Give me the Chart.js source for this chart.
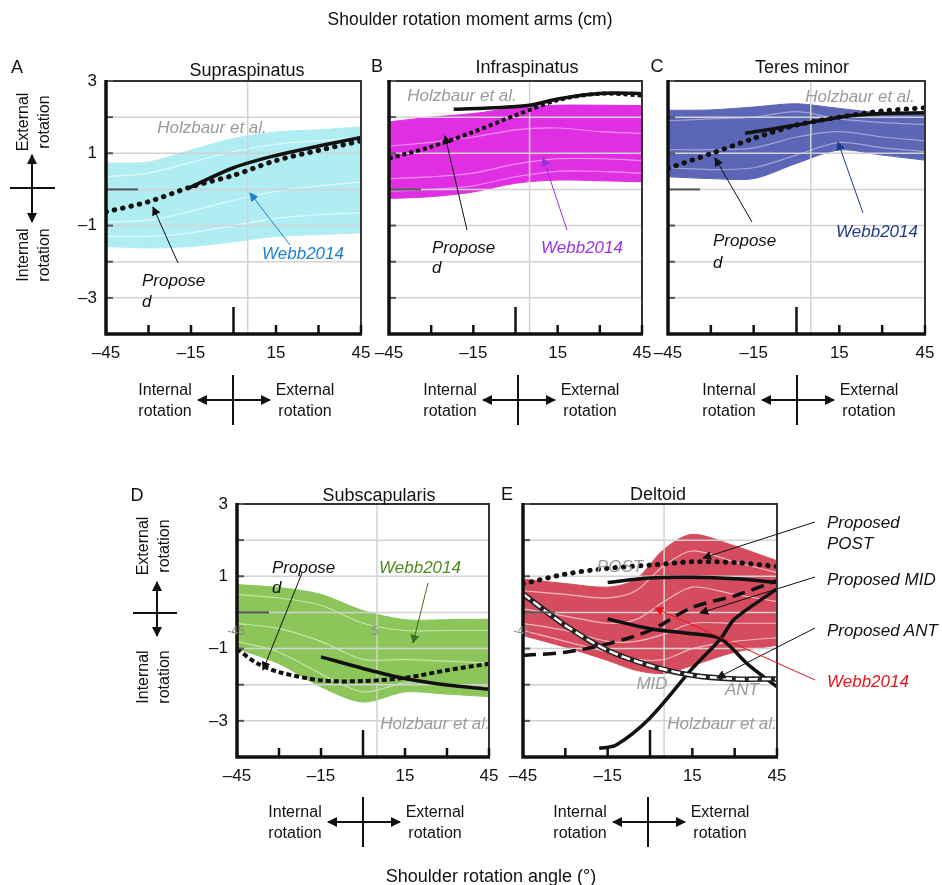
<!DOCTYPE html>
<html>
<head>
<meta charset="utf-8">
<script src="https://cdn.jsdelivr.net/npm/chart.js@4.4.0/dist/chart.umd.min.js"></script>
<style>
  body { margin: 0; background: #fff; width: 942px; height: 885px; overflow: hidden; position: relative;
         font-family: "Liberation Sans", Arial, sans-serif; color: #111; }
  .t { position: absolute; white-space: nowrap; line-height: 1; transform: translate(-50%, -50%); z-index: 3; }
  .l { transform: translate(0, -50%); }
  .i { font-style: italic; font-size: 17px; }
  .g { color: #9a9a9a; }
  .blk { font-size: 16px; line-height: 21px; text-align: center; }
  canvas { position: absolute; z-index: 1; }
  svg { position: absolute; left: 0; top: 0; z-index: 2; }
</style>
</head>
<body>
<svg id="ov" width="942" height="885"></svg>
<script>
const FONT = '"Liberation Sans", Arial, sans-serif';

// shared axes
const angles = [-45, -30, -15, 0, 15, 30, 45];
const xLabelValues = [-45, -15, 15, 45];
const yLabelValues = [3, 1, -1, -3];
const gridValues = [2, 1, 0, -1, -2, -3];
const yTickValues = [3, 2, 1, 0, -1, -2, -3];
const xTickValues = [-30, -15, 0, 15, 30, 45];
const verticalGridAngle = 5;

// A  Supraspinatus
const supraWebbHi = [0.73, 0.76, 1.09, 1.41, 1.59, 1.65, 1.73];
const supraWebbLo = [-1.58, -1.62, -1.58, -1.45, -1.3, -1.25, -1.2];
const supraStreaks = [[0.35, 0.45, 0.75, 1.05, 1.25, 1.35, 1.45], [-0.9, -0.85, -0.6, -0.3, -0.05, 0.1, 0.2], [-1.3, -1.3, -1.2, -1.0, -0.8, -0.7, -0.65]];
const supraHolzAngles = [-16, 0, 15, 30, 45];
const supraHolz = [0.03, 0.6, 0.94, 1.2, 1.44];
const supraProposed = [-0.62, -0.34, 0.07, 0.39, 0.8, 1.08, 1.34];

// B  Infraspinatus
const infraWebbHi = [1.87, 2.0, 2.1, 2.26, 2.33, 2.33, 2.32];
const infraWebbLo = [-0.25, -0.2, -0.07, 0.17, 0.26, 0.24, 0.21];
const infraStreaks = [[0.3, 0.35, 0.45, 0.7, 0.85, 0.85, 0.8], [1.2, 1.3, 1.45, 1.65, 1.7, 1.6, 1.55], [-0.05, 0.0, 0.1, 0.35, 0.5, 0.5, 0.45]];
const infraHolzAngles = [-22, -5, 5, 15, 25, 35, 45];
const infraHolz = [2.22, 2.27, 2.33, 2.5, 2.62, 2.67, 2.65];
const infraProposed = [0.86, 1.18, 1.59, 2.05, 2.47, 2.65, 2.6];

// C  Teres minor
const teresWebbHi = [2.19, 2.2, 2.28, 2.37, 2.24, 2.12, 2.1];
const teresWebbLo = [0.35, 0.3, 0.3, 0.72, 1.09, 0.95, 0.81];
const teresStreaks = [[1.9, 1.95, 2.0, 2.15, 1.95, 1.85, 1.8], [1.1, 1.1, 1.15, 1.45, 1.6, 1.45, 1.35], [0.6, 0.55, 0.6, 0.95, 1.3, 1.15, 1.05]];
const teresHolzAngles = [-18, 0, 15, 30, 45];
const teresHolz = [1.55, 1.78, 2.0, 2.1, 2.12];
const teresProposed = [0.58, 0.99, 1.41, 1.78, 2.0, 2.17, 2.26];

// D  Subscapularis
const subscapWebbHi = [0.77, 0.69, 0.5, 0.05, -0.2, -0.2, -0.19];
const subscapWebbLo = [-1.0, -1.42, -2.06, -2.48, -2.2, -2.26, -2.33];
const subscapStreaks = [[0.5, 0.4, 0.2, -0.3, -0.5, -0.5, -0.5], [-0.3, -0.45, -0.8, -1.3, -1.3, -1.35, -1.4], [-0.8, -1.1, -1.7, -2.2, -1.95, -2.0, -2.05]];
const subscapHolzAngles = [-15, 0, 15, 30, 45];
const subscapHolz = [-1.23, -1.55, -1.83, -2.01, -2.12];
const subscapPropAngles = [-45, -38, -30, -15, 0, 15, 30, 45];
const subscapProposed = [-1.01, -1.4, -1.65, -1.88, -1.9, -1.81, -1.6, -1.42];

// E  Deltoid
const deltBandAngles = [-45, -30, -15, -5, 5, 15, 30, 45];
const deltWebbHi = [0.92, 0.8, 0.7, 0.92, 1.75, 2.16, 1.84, 1.43];
const deltWebbLo = [-0.64, -0.96, -1.33, -1.6, -1.69, -1.47, -1.1, -0.91];
const deltStreaks = [[0.6, 0.5, 0.4, 0.6, 1.3, 1.7, 1.4, 1.1], [0.1, -0.1, -0.3, -0.2, 0.3, 0.7, 0.5, 0.3], [-0.3, -0.5, -0.8, -0.8, -0.6, -0.3, -0.3, -0.3], [-0.5, -0.8, -1.1, -1.3, -1.3, -1.0, -0.8, -0.7]];
const deltPostProposed = [0.79, 1.06, 1.22, 1.31, 1.4, 1.38, 1.27];
const deltPostHolzAngles = [-15, 0, 15, 30, 45];
const deltPostHolz = [0.83, 0.95, 0.97, 0.93, 0.83];
const deltMidProposed = [-1.19, -1.1, -0.87, -0.5, 0.14, 0.46, 0.88];
const deltMidHolzAngles = [-15, 0, 15, 25, 35, 45];
const deltMidHolz = [-0.18, -0.45, -0.59, -0.73, -1.46, -2.06];
const deltAntProposed = [0.51, -0.36, -1.05, -1.47, -1.74, -1.84, -1.84];
const deltAntHolzAngles = [-18, -12, 0, 15, 25, 30, 45];
const deltAntHolz = [-3.76, -3.67, -2.92, -1.55, -0.73, -0.18, 0.65];

function pts(xs, ys) { return xs.map((x, i) => ({ x: x, y: ys[i] })); }
function fmt(v) { return v < 0 ? '\u2013' + Math.abs(v) : String(v); }

function bandSets(xs, lo, hi, streaks, color, streakColor) {
  const sets = [
    { data: pts(xs, lo), borderColor: color, borderWidth: 1, fill: false, order: 10, band: true },
    { data: pts(xs, hi), borderColor: color, borderWidth: 1, backgroundColor: color, fill: '-1', order: 10, band: true }
  ];
  streaks.forEach(s => sets.push({ data: pts(xs, s), borderColor: streakColor, borderWidth: 1.2, fill: false, order: 5, band: true }));
  return sets;
}
const solid = (xs, ys) => ({ data: pts(xs, ys), borderColor: '#111', borderWidth: 3.5, fill: false, order: 0 });
const dotted = (xs, ys) => ({ data: pts(xs, ys), borderColor: '#111', borderWidth: 5, borderDash: [0.5, 8], borderCapStyle: 'round', fill: false, order: 0 });
const dashed = (xs, ys, d, w) => ({ data: pts(xs, ys), borderColor: '#111', borderWidth: w, borderDash: d, fill: false, order: 0 });

function drawGrid(chart) {
  const { ctx, chartArea: a, scales: { x, y } } = chart;
  ctx.save();
  ctx.strokeStyle = '#d2d2d2';
  ctx.lineWidth = 1.5;
  gridValues.forEach(v => {
    const py = y.getPixelForValue(v);
    ctx.beginPath(); ctx.moveTo(a.left, py); ctx.lineTo(a.right, py); ctx.stroke();
  });
  const px = x.getPixelForValue(verticalGridAngle);
  ctx.beginPath(); ctx.moveTo(px, a.top); ctx.lineTo(px, a.bottom); ctx.stroke();
  ctx.restore();
}

function drawFrame(chart) {
  const { ctx, chartArea: a, scales: { x, y } } = chart;
  ctx.save();
  ctx.strokeStyle = '#333'; ctx.lineWidth = 2;
  ctx.beginPath(); ctx.moveTo(a.left, a.top); ctx.lineTo(a.right, a.top); ctx.lineTo(a.right, a.bottom); ctx.stroke();
  ctx.strokeStyle = '#555'; ctx.lineWidth = 2;
  yTickValues.forEach(v => {
    const py = y.getPixelForValue(v);
    ctx.beginPath(); ctx.moveTo(a.left, py); ctx.lineTo(a.left + (v === 0 ? 32 : 7), py); ctx.stroke();
  });
  ctx.strokeStyle = '#111'; ctx.lineWidth = 2.5;
  xTickValues.forEach(v => {
    const px = x.getPixelForValue(v);
    ctx.beginPath(); ctx.moveTo(px, a.bottom); ctx.lineTo(px, a.bottom - (v === 0 ? 27 : 9)); ctx.stroke();
  });
  ctx.lineWidth = 3.5;
  ctx.beginPath(); ctx.moveTo(a.left, a.top - 1); ctx.lineTo(a.left, a.bottom); ctx.lineTo(a.right + 1, a.bottom); ctx.stroke();
  ctx.restore();
}

const framePlugin = {
  id: 'frame',
  beforeDatasetsDraw(chart) { chart.$gridDone = false; },
  beforeDatasetDraw(chart, args) {
    if (!chart.$gridDone && !chart.data.datasets[args.index].band) { drawGrid(chart); chart.$gridDone = true; }
  },
  afterDatasetsDraw(chart) {
    if (!chart.$gridDone) drawGrid(chart);
    drawFrame(chart);
  }
};

function makePanel(area, datasets, showY) {
  const c = document.createElement('canvas');
  c.width = area.r - area.l + 64;
  c.height = area.b - area.t + 45;
  c.style.left = (area.l - 50) + 'px';
  c.style.top = (area.t - 10) + 'px';
  document.body.appendChild(c);
  new Chart(c, {
    type: 'line',
    data: { datasets: datasets },
    options: {
      responsive: false, animation: false, devicePixelRatio: 1,
      layout: { padding: { left: 0, top: 10, right: 14, bottom: 0 } },
      plugins: { legend: { display: false }, tooltip: { enabled: false } },
      elements: { point: { radius: 0 }, line: { tension: 0.3 } },
      scales: {
        x: {
          type: 'linear', min: -45, max: 45,
          grid: { display: false, drawTicks: false }, border: { display: false },
          ticks: { stepSize: 15, padding: 9, color: '#111', autoSkip: false, maxRotation: 0,
                   font: { size: 17, family: FONT },
                   callback: v => xLabelValues.includes(v) ? fmt(v) : '' },
          afterFit: s => { s.height = 35; s.paddingLeft = 0; s.paddingRight = 0; }
        },
        y: {
          min: -4, max: 3,
          grid: { display: false, drawTicks: false }, border: { display: false },
          ticks: { display: showY, stepSize: 1, padding: 9, color: '#111',
                   font: { size: 17, family: FONT },
                   callback: v => yLabelValues.includes(v) ? fmt(v) : '' },
          afterFit: s => { s.width = 50; s.paddingTop = 0; s.paddingBottom = 0; }
        }
      }
    },
    plugins: [framePlugin]
  });
}

makePanel({ l: 106, t: 81, r: 361, b: 334 }, [
  solid(supraHolzAngles, supraHolz), dotted(angles, supraProposed),
  ...bandSets(angles, supraWebbLo, supraWebbHi, supraStreaks, '#b0edf2', 'rgba(235,252,253,0.8)')
], true);

makePanel({ l: 389, t: 81, r: 642, b: 334 }, [
  solid(infraHolzAngles, infraHolz), dashed(angles, infraProposed, [4, 3], 4),
  ...bandSets(angles, infraWebbLo, infraWebbHi, infraStreaks, '#e02ee2', 'rgba(248,170,248,0.75)')
], false);

makePanel({ l: 668, t: 81, r: 925, b: 334 }, [
  solid(teresHolzAngles, teresHolz), dotted(angles, teresProposed),
  ...bandSets(angles, teresWebbLo, teresWebbHi, teresStreaks, '#5c66b6', 'rgba(180,186,230,0.75)')
], false);

makePanel({ l: 237, t: 504, r: 489, b: 757 }, [
  solid(subscapHolzAngles, subscapHolz), dashed(subscapPropAngles, subscapProposed, [5, 3], 4),
  ...bandSets(angles, subscapWebbLo, subscapWebbHi, subscapStreaks, '#8cc65a', 'rgba(210,236,190,0.8)')
], true);

makePanel({ l: 523, t: 504, r: 777, b: 757 }, [
  { data: pts(angles, deltAntProposed), borderColor: '#fff', borderWidth: 2.5, borderDash: [9, 4], fill: false, order: 0 },
  { data: pts(angles, deltAntProposed), borderColor: '#222', borderWidth: 5.5, fill: false, order: 0 },
  solid(deltPostHolzAngles, deltPostHolz), solid(deltMidHolzAngles, deltMidHolz), solid(deltAntHolzAngles, deltAntHolz),
  dotted(angles, deltPostProposed), dashed(angles, deltMidProposed, [13, 7], 3.5),
  ...bandSets(deltBandAngles, deltWebbLo, deltWebbHi, deltStreaks, '#d44c5e', 'rgba(250,222,226,0.75)')
], false);

// text
function txt(s, x, y, cls, style) {
  const d = document.createElement('div');
  d.className = 't ' + (cls || '');
  d.innerHTML = s;
  d.style.left = x + 'px';
  d.style.top = y + 'px';
  if (style) d.style.cssText += style;
  document.body.appendChild(d);
}
txt('Shoulder rotation moment arms (cm)', 470, 20, '', 'font-size:17.5px');
txt('Shoulder rotation angle (°)', 491, 876, '', 'font-size:18px');
[['A', 17, 67], ['B', 377, 66], ['C', 657, 66], ['D', 137, 495], ['E', 507, 494]].forEach(p => txt(p[0], p[1], p[2], '', 'font-size:18px'));
[['Supraspinatus', 247, 70], ['Infraspinatus', 527, 67], ['Teres minor', 802, 67], ['Subscapularis', 379, 495], ['Deltoid', 658, 494]]
  .forEach(p => txt(p[0], p[1], p[2], '', 'font-size:18px'));

txt('Holzbaur et al.', 212, 127, 'i g');
txt('Webb2014', 303, 253, 'i', 'color:#1e7fd0');
txt('Propose', 142, 280, 'i l'); txt('d', 142, 301, 'i l');
txt('Holzbaur et al.', 462, 95, 'i g');
txt('Propose', 432, 247, 'i l'); txt('d', 432, 267, 'i l');
txt('Webb2014', 582, 247, 'i', 'color:#9933dd');
txt('Holzbaur et al.', 860, 96, 'i g');
txt('Propose', 713, 240, 'i l'); txt('d', 713, 262, 'i l');
txt('Webb2014', 877, 231, 'i', 'color:#1f3a8a');
txt('Propose', 272, 567, 'i l'); txt('d', 272, 587, 'i l');
txt('Webb2014', 420, 567, 'i', 'color:#4d8a22');
txt('Holzbaur et al.', 435, 723, 'i g');
txt('-45', 236, 631, 'g', 'font-size:12px;color:#888');
txt('5', 375, 631, 'g', 'font-size:12px;color:#888');
txt('POST', 620, 566, 'i g');
txt('MID', 652, 683, 'i g');
txt('ANT', 742, 689, 'i g');
txt('Holzbaur et al.', 722, 723, 'i g');
txt('-45', 522, 631, 'g', 'font-size:12px;color:#888');
txt('Proposed', 827, 522, 'i l'); txt('POST', 827, 543, 'i l');
txt('Proposed MID', 827, 579, 'i l');
txt('Proposed ANT', 827, 630, 'i l');
txt('Webb2014', 827, 681, 'i l', 'color:#e8141e');

// rotation direction keys
txt('External<br>rotation', 33, 122, 'blk', 'transform:translate(-50%,-50%) rotate(-90deg)');
txt('Internal<br>rotation', 33, 255, 'blk', 'transform:translate(-50%,-50%) rotate(-90deg)');
txt('External<br>rotation', 153, 546, 'blk', 'transform:translate(-50%,-50%) rotate(-90deg)');
txt('Internal<br>rotation', 153, 677, 'blk', 'transform:translate(-50%,-50%) rotate(-90deg)');
const crossCenters = [[233, 400], [518, 400], [797, 400], [363, 822], [648, 822]];
crossCenters.forEach(c => {
  txt('Internal<br>rotation', c[0] - 68, c[1], 'blk');
  txt('External<br>rotation', c[0] + 72, c[1], 'blk');
});

// arrows
const ov = document.getElementById('ov');
const colors = { k: '#111', blue: '#1e7fd0', purple: '#9933dd', navy: '#1f3a8a', green: '#3d6e25', red: '#e8141e' };
let defs = '<defs>';
Object.keys(colors).forEach(k => {
  defs += '<marker id="m' + k + '" viewBox="0 0 10 10" refX="9" refY="5" markerWidth="9" markerHeight="9" markerUnits="userSpaceOnUse" orient="auto-start-reverse">' +
          '<path d="M0,0 L10,5 L0,10 z" fill="' + colors[k] + '"/></marker>';
});
defs += '<marker id="mbig" viewBox="0 0 10 10" refX="9" refY="5" markerWidth="10" markerHeight="10" markerUnits="userSpaceOnUse" orient="auto-start-reverse"><path d="M0,0 L10,5 L0,10 z" fill="#111"/></marker></defs>';
let svg = defs;
function arrow(x1, y1, x2, y2, c) {
  svg += '<line x1="' + x1 + '" y1="' + y1 + '" x2="' + x2 + '" y2="' + y2 + '" stroke="' + colors[c] + '" stroke-width="1" marker-end="url(#m' + c + ')"/>';
}
function line(x1, y1, x2, y2, both) {
  svg += '<line x1="' + x1 + '" y1="' + y1 + '" x2="' + x2 + '" y2="' + y2 + '" stroke="#111" stroke-width="2"' +
         (both ? ' marker-start="url(#mbig)" marker-end="url(#mbig)"' : '') + '/>';
}
arrow(290, 245, 250, 193, 'blue'); arrow(178, 263, 153, 207, 'k');
arrow(467, 230, 445, 136, 'k'); arrow(567, 230, 543, 158, 'purple');
arrow(752, 222, 715, 158, 'k'); arrow(863, 213, 838, 142, 'navy');
arrow(302, 573, 263, 670, 'k'); arrow(428, 583, 413, 643, 'green');
arrow(815, 522, 703, 558, 'k'); arrow(815, 577, 700, 613, 'k'); arrow(815, 628, 717, 678, 'k');
arrow(815, 680, 655, 608, 'red');
line(10, 188, 55, 188); line(32, 155, 32, 222, true);
line(133, 613, 177, 613); line(157, 582, 157, 636, true);
crossCenters.forEach(c => {
  line(c[0], c[1] - 25, c[0], c[1] + 25);
  line(c[0] - 35, c[1], c[0] + 37, c[1], true);
});
ov.innerHTML = svg;
</script>
</body>
</html>
